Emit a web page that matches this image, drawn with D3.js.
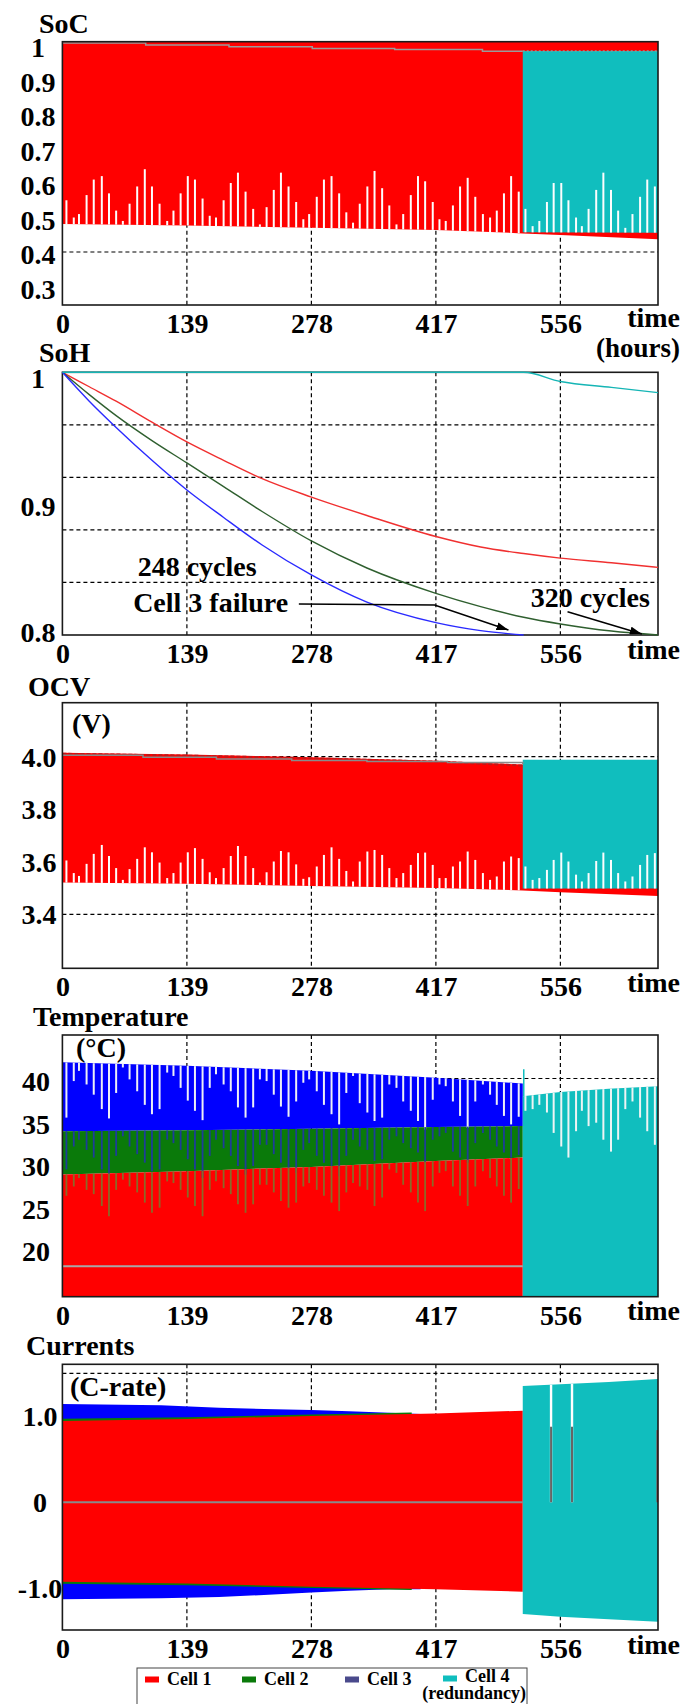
<!DOCTYPE html>
<html>
<head>
<meta charset="utf-8">
<script src="https://cdn.jsdelivr.net/npm/d3@7"></script>
<style>
body { margin: 0; background: #fff; }
svg text { font-family: "Liberation Serif", "Times New Roman", serif; font-weight: bold; fill: #000; }
</style>
</head>
<body>
<script>
// ---- shared time data (hours) ----
var timeTicks = [0, 139, 278, 417, 556];
var gridTimes = [139, 278, 417, 556];
var switchT = 514; // cell 4 (redundancy) takes over

// charge/discharge cycle instants, same for SoC, OCV and temperature
var cycleT = [4.5, 12.7, 18.5, 27, 35, 44, 52, 60, 67.5, 75,
  83.5, 92, 100, 108.5, 117, 124, 132, 140, 148, 156.5,
  164.5, 171.5, 180, 188, 196, 204.5, 213, 220.5, 228, 236,
  244, 252.5, 261, 269, 275.5, 284, 292, 300.5, 309, 317,
  324.5, 332, 340.5, 348.5, 357, 365, 373, 380.5, 389, 397,
  405, 413.5, 421, 428, 436, 444, 452.5, 461, 469.5, 477.5,
  485, 493, 501, 509.5,
  517, 525, 532.5, 541, 548.5, 557, 565, 573.5, 580, 587.5,
  596, 604, 612.5, 620.5, 628.5, 636.5, 645, 653, 661.5];

// ---- SoC ----
var socTicks = [1, 0.9, 0.8, 0.7, 0.6, 0.5, 0.4, 0.3];
var socEnvT = [0, 139, 278, 417, 514, 556, 620, 665];
var socRedHigh = [1.01, 1.01, 1.01, 1.01, 1.01, 1.01, 1.01, 1.01];
var socRedLow = [0.481, 0.477, 0.470, 0.464, 0.454, 0.449, 0.442, 0.437];
var socGreyT = [0, 93, 186, 279, 371, 469, 514];
var socGreyV = [1.006, 1.0, 0.995, 0.990, 0.987, 0.982, 0.982];
var socCyanT = [514, 665];
var socCyanHigh = [0.983, 0.983];
var socCyanLow = [0.457, 0.456];
var socSpikes = [0.55, 0.50, 0.51, 0.565, 0.61, 0.62, 0.57, 0.52, 0.49, 0.54,
  0.59, 0.64, 0.59, 0.54, 0.49, 0.52, 0.57, 0.62, 0.61, 0.555,
  0.505, 0.50, 0.55, 0.60, 0.63, 0.575, 0.525, 0.48, 0.53, 0.58,
  0.63, 0.59, 0.545, 0.495, 0.51, 0.56, 0.61, 0.62, 0.57, 0.515,
  0.485, 0.54, 0.59, 0.635, 0.585, 0.535, 0.48, 0.51, 0.565, 0.62,
  0.605, 0.545, 0.495, 0.49, 0.535, 0.59, 0.615, 0.56, 0.51, 0.50,
  0.52, 0.57, 0.62, 0.575,
  0.525, 0.475, 0.49, 0.545, 0.60, 0.60, 0.55, 0.50, 0.475, 0.525,
  0.58, 0.63, 0.58, 0.52, 0.47, 0.51, 0.56, 0.61, 0.59];

// ---- SoH ----
var sohTicks = [1, 0.9, 0.8];
var sohT = [0, 30, 60, 100, 139, 180, 223, 278, 340, 417, 467, 515, 556, 613, 665];
var sohCell1 = [1.0, 0.989, 0.978, 0.962, 0.947, 0.933, 0.919, 0.905, 0.891, 0.875, 0.867, 0.862, 0.8585, 0.855, 0.8515];
var sohCell2 = [1.0, 0.983, 0.967, 0.948, 0.931, 0.913, 0.894, 0.8716, 0.851, 0.8317, 0.8216, 0.8135, 0.8084, 0.803, 0.80];
var sohCell3 = [1.0, 0.978, 0.958, 0.933, 0.9104, 0.8895, 0.8685, 0.8457, 0.825, 0.8094, 0.8033, 0.80, null, null, null];
var sohCell4 = [1.0, 1.0, 1.0, 1.0, 1.0, 1.0, 1.0, 1.0, 1.0, 1.0, 1.0, 1.0, 0.993, 0.9885, 0.9845];
var sohNotes = [
  {text: "248 cycles", t: 84, v: 0.845},
  {text: "Cell 3 failure", t: 79, v: 0.8175},
  {text: "320 cycles", t: 523, v: 0.8213}
];
var sohArrows = [
  [[264, 0.8236], [415.5, 0.8228], [498, 0.8038]],
  [[564, 0.8177], [647, 0.8008]]
];

// ---- OCV ----
var ocvTicks = [4.0, 3.8, 3.6, 3.4];
var ocvEnvT = [0, 139, 278, 417, 514, 556, 665];
var ocvRedHigh = [4.015, 4.008, 3.998, 3.985, 3.97, 3.97, 3.97];
var ocvRedLow = [3.521, 3.516, 3.508, 3.50, 3.491, 3.484, 3.470];
var ocvGreyT = [0, 90, 172, 256, 340, 430, 514];
var ocvGreyV = [4.006, 3.998, 3.991, 3.986, 3.982, 3.978, 3.972];
var ocvCyanT = [514, 665];
var ocvCyanHigh = [3.988, 3.988];
var ocvCyanLow = [3.498, 3.498];
var ocvSpikes = [3.605, 3.557, 3.546, 3.592, 3.630, 3.664, 3.622, 3.576, 3.531, 3.572,
  3.611, 3.655, 3.636, 3.597, 3.538, 3.557, 3.597, 3.636, 3.652, 3.611,
  3.560, 3.538, 3.576, 3.622, 3.660, 3.622, 3.576, 3.521, 3.560, 3.601,
  3.641, 3.636, 3.590, 3.535, 3.541, 3.582, 3.626, 3.655, 3.611, 3.565,
  3.525, 3.601, 3.639, 3.645, 3.626, 3.576, 3.538, 3.557, 3.588, 3.633,
  3.635, 3.588, 3.538, 3.538, 3.582, 3.601, 3.639, 3.607, 3.557, 3.531,
  3.544, 3.601, 3.620, 3.614,
  3.582, 3.531, 3.538, 3.569, 3.607, 3.635, 3.601, 3.551, 3.525, 3.557,
  3.603, 3.635, 3.607, 3.557, 3.525, 3.544, 3.588, 3.626, 3.633];

// ---- Temperature (°C) ----
var tempTicks = [40, 35, 30, 25, 20];
var tempEnvT = [0, 139, 278, 417, 514];
var tempBlueHigh = [41.9, 41.5, 40.9, 40.1, 39.4];
var tempBlueLow = [33.8, 33.9, 34.1, 34.3, 34.4];
var tempGreenLow = [28.7, 29.1, 29.6, 30.3, 30.7];
var tempGrey = 17.9;
var tempCyanT = [514, 556, 610, 665];
var tempCyanHigh = [37.9, 38.4, 38.8, 39.1];
var tempCyanPeak = 41.1;
var tempBlueDip = [35.4, 39.7, 40.9, 39.3, 38.1, 36.4, 35.3, 38.3, 41.3, 39.9,
  38.5, 36.9, 35.8, 36.4, 40.7, 40.3, 38.9, 37.4, 36.2, 35.1,
  38.9, 40.5, 39.3, 38.5, 36.6, 35.4, 36.6, 39.9, 39.7, 38.1,
  36.7, 35.5, 37.3, 39.5, 39.9, 38.5, 36.9, 35.8, 34.6, 38.3,
  40.3, 37.1, 36.0, 35.0, 35.4, 39.3, 38.9, 37.3, 36.2, 35.0,
  34.0, 37.5, 39.3, 39.1, 37.3, 35.6, 34.2, 37.3, 39.3, 38.1,
  36.9, 35.6, 34.6, 35.5];
var tempGreenDip = [29.3, 32.0, 32.8, 31.6, 30.7, 29.3, 28.7, 30.9, 33.2, 32.0,
  31.1, 30.1, 29.1, 29.3, 32.8, 32.4, 31.6, 30.5, 29.3, 28.3,
  30.9, 32.8, 31.8, 30.9, 29.7, 28.7, 29.7, 32.2, 32.2, 31.1,
  30.1, 29.5, 28.9, 31.6, 32.4, 30.9, 30.1, 29.7, 28.5, 30.9,
  32.8, 32.0, 31.6, 30.3, 30.5, 32.8, 33.2, 32.4, 31.8, 31.3,
  30.1, 32.8, 33.2, 33.6, 31.4, 30.7, 30.1, 32.4, 33.6, 32.8,
  32.0, 31.3, 30.7, 31.0];
var tempRedDip = [26.2, 27.3, 28.3, 26.9, 26.4, 25.0, 23.8, 26.9, 28.1, 27.3,
  26.6, 25.4, 24.2, 24.8, 27.9, 27.7, 26.9, 26.0, 25.0, 23.8,
  26.9, 27.9, 27.1, 26.4, 25.2, 24.2, 25.2, 27.5, 27.5, 26.6,
  25.6, 24.8, 25.4, 27.3, 27.7, 26.9, 26.2, 25.4, 24.4, 26.6,
  27.7, 27.3, 26.9, 25.0, 26.0, 29.3, 28.9, 27.5, 26.6, 25.4,
  24.4, 27.3, 28.9, 29.1, 27.3, 26.2, 25.0, 27.3, 29.1, 28.3,
  27.3, 26.2, 25.4, 27.0];
var tempCyanDip = [36.2, 36.4, 36.9, 36.0, 33.6, 32.0, 30.7, 33.8, 36.2, 34.4,
  34.8, 32.8, 31.4, 32.8, 36.4, 37.3, 35.4, 33.8, 32.2];

// ---- Currents (C-rate) ----
var curTicks = [1, 0, -1];
var curBlueT = [0, 110, 175, 225, 278, 320, 365, 400];
var curBlueHigh = [1.143, 1.130, 1.10, 1.085, 1.073, 1.058, 1.042, 1.027];
var curBlueLow = [-1.128, -1.117, -1.10, -1.078, -1.05, -1.028, -1.01, -1.01];
var curGreenT = [0, 139, 278, 390];
var curGreenHigh = [0.972, 0.99, 1.02, 1.045];
var curGreenLow = [-0.948, -0.965, -0.997, -1.02];
var curRedT = [0, 139, 278, 417, 514];
var curRedHigh = [0.946, 0.968, 1.004, 1.034, 1.065];
var curRedLow = [-0.923, -0.943, -0.981, -1.012, -1.039];
var curCyanT = [514, 556, 610, 665];
var curCyanHigh = [1.352, 1.372, 1.40, 1.434];
var curCyanLow = [-1.299, -1.33, -1.36, -1.389];
var curGapT = [545.6, 569];
var curGapGrey = 0.879;
var curEndT = 664.3;
var curEndRed = 0.84;

var legendLabels = ["Cell 1", "Cell 2", "Cell 3", "Cell 4"];

var RED = "#ff0000", GREEN = "#0a7a0a", BLUE = "#0000ff", CYAN = "#10bebe";
var legendColors = [RED, GREEN, "#4a4a8c", CYAN];

var svg = d3.select("body").append("svg")
    .attr("width", 683)
    .attr("height", 1704);

var defs = svg.append("defs");
defs.append("marker")
    .attr("id", "arrow")
    .attr("viewBox", "0 0 12 8")
    .attr("refX", 12).attr("refY", 4)
    .attr("markerWidth", 12).attr("markerHeight", 8)
    .attr("markerUnits", "userSpaceOnUse")
    .attr("orient", "auto")
    .append("path").attr("d", "M0,0L12,4L0,8z").attr("fill", "#000");

var x = d3.scaleLinear().domain([0, 665]).range([62.4, 658]);

function makePanel(p) {
    var y = d3.scaleLinear().domain(p.domain).range([p.bottom, p.top]);
    var g = svg.append("g");

    var grid = g.append("g")
        .attr("stroke", "#000").attr("stroke-width", 1.2).attr("stroke-dasharray", "4,3");
    grid.selectAll(".vg").data(gridTimes).enter().append("line")
        .attr("x1", function(d) { return x(d); })
        .attr("x2", function(d) { return x(d); })
        .attr("y1", p.top).attr("y2", p.bottom);
    grid.selectAll(".hg").data(p.hGrid).enter().append("line")
        .attr("x1", x.range()[0]).attr("x2", x.range()[1])
        .attr("y1", function(d) { return y(d); })
        .attr("y2", function(d) { return y(d); });

    var marks = g.append("g");

    g.append("rect")
        .attr("x", x.range()[0]).attr("y", p.top)
        .attr("width", x.range()[1] - x.range()[0])
        .attr("height", p.bottom - p.top)
        .attr("fill", "none").attr("stroke", "#1a1a1a").attr("stroke-width", 1.6);

    var front = g.append("g");

    g.append("text").attr("x", p.titleX).attr("y", p.titleY)
        .attr("font-size", 28).text(p.title);
    if (p.unit) {
        g.append("text").attr("x", p.unitX).attr("y", p.unitY)
            .attr("font-size", 28).text(p.unit);
    }

    // y tick labels, kept inside the frame height
    g.selectAll(".yl").data(p.ticks).enter().append("text")
        .attr("x", p.labelX)
        .attr("y", function(d) {
            var c = Math.min(Math.max(y(d) + p.labelDy, p.top + 6), p.bottom - 3);
            return c + 9.5;
        })
        .attr("text-anchor", "middle")
        .attr("font-size", 28)
        .text(p.fmt);

    g.append("g")
        .attr("transform", "translate(0," + p.bottom + ")")
        .call(d3.axisBottom(x).tickValues(timeTicks).tickSize(0).tickPadding(8).tickFormat(d3.format("d")))
        .attr("font-size", 28)
        .call(function(a) { a.select(".domain").remove(); });

    g.append("text").attr("x", 680).attr("y", p.bottom + p.timeDy)
        .attr("text-anchor", "end").attr("font-size", 28).text("time");

    return {y: y, marks: marks, front: front};
}

function band(layer, y, ts, hi, lo, color) {
    var rows = ts.map(function(t, i) { return {t: t, hi: hi[i], lo: lo[i]}; });
    layer.append("path").datum(rows)
        .attr("d", d3.area()
            .x(function(d) { return x(d.t); })
            .y0(function(d) { return y(d.lo); })
            .y1(function(d) { return y(d.hi); }))
        .attr("fill", color);
}

function edge(ts, vs) {
    return d3.scaleLinear().domain(ts).range(vs).clamp(true);
}

function spikes(layer, y, ts, tips, from, color, w) {
    layer.append("g").selectAll("line").data(ts).enter().append("line")
        .attr("x1", function(d) { return x(d); })
        .attr("x2", function(d) { return x(d); })
        .attr("y1", function(d) { return y(from(d)); })
        .attr("y2", function(d, i) { return y(tips[i]); })
        .attr("stroke", color).attr("stroke-width", w);
}

function stepLine(layer, y, ts, vs, color, w, dash) {
    layer.append("path").datum(ts.map(function(t, i) { return [t, vs[i]]; }))
        .attr("d", d3.line()
            .x(function(d) { return x(d[0]); })
            .y(function(d) { return y(d[1]); })
            .curve(d3.curveStepAfter))
        .attr("fill", "none").attr("stroke", color).attr("stroke-width", w)
        .attr("stroke-dasharray", dash || null);
}

var oneDec = function(d) { return d === 1 ? "1" : d.toFixed(1); };

// ---------- SoC ----------
var soc = makePanel({title: "SoC", titleX: 39, titleY: 33, top: 41.7, bottom: 305,
    domain: [0.2464, 1.0096], ticks: socTicks, fmt: oneDec, labelX: 38, labelDy: 2.5,
    hGrid: [0.4], timeDy: 22});
band(soc.marks, soc.y, socEnvT, socRedHigh, socRedLow, RED);
band(soc.marks, soc.y, socCyanT, socCyanHigh, socCyanLow, CYAN);
stepLine(soc.marks, soc.y, socGreyT, socGreyV, "#9a9a9a", 1.5);
stepLine(soc.marks, soc.y, socCyanT, socCyanHigh, "#8a9a9a", 1.5, "2,2");
var socRedBase = edge(socEnvT, socRedLow), socCyanBase = edge(socCyanT, socCyanLow);
spikes(soc.marks, soc.y, cycleT, socSpikes,
    function(t) { return t < switchT ? socRedBase(t) : socCyanBase(t); }, "#fdfdfd", 2);
svg.append("text").attr("x", 680).attr("y", 357)
    .attr("text-anchor", "end").attr("font-size", 27).text("(hours)");

// ---------- SoH ----------
var soh = makePanel({title: "SoH", titleX: 39, titleY: 361.5, top: 372.3, bottom: 635,
    domain: [0.8, 1.0], ticks: sohTicks, fmt: oneDec, labelX: 38, labelDy: 2.5,
    hGrid: [0.96, 0.92, 0.88, 0.84], timeDy: 23.5});
var sohLine = d3.line()
    .defined(function(d) { return d[1] !== null; })
    .x(function(d) { return x(d[0]); })
    .y(function(d) { return soh.y(d[1]); })
    .curve(d3.curveMonotoneX);
[[sohCell1, "#f03030"], [sohCell2, "#2f5f2f"], [sohCell3, "#2a2aff"], [sohCell4, "#15b5b5"]]
    .forEach(function(s) {
        soh.front.append("path")
            .datum(sohT.map(function(t, i) { return [t, s[0][i]]; }))
            .attr("d", sohLine)
            .attr("fill", "none").attr("stroke", s[1]).attr("stroke-width", 1.4);
    });
soh.front.selectAll(".note").data(sohNotes).enter().append("text")
    .attr("x", function(d) { return x(d.t); })
    .attr("y", function(d) { return soh.y(d.v); })
    .attr("font-size", 28)
    .text(function(d) { return d.text; });
soh.front.selectAll(".arr").data(sohArrows).enter().append("path")
    .attr("d", d3.line()
        .x(function(d) { return x(d[0]); })
        .y(function(d) { return soh.y(d[1]); }))
    .attr("fill", "none").attr("stroke", "#000").attr("stroke-width", 1.5)
    .attr("marker-end", "url(#arrow)");

// ---------- OCV ----------
var ocv = makePanel({title: "OCV", titleX: 28, titleY: 696, top: 702.7, bottom: 968.3,
    domain: [3.1944, 4.2056], ticks: ocvTicks, fmt: function(d) { return d.toFixed(1); },
    labelX: 39, labelDy: 0.5, hGrid: [4.0, 3.4], timeDy: 23.5,
    unit: "(V)", unitX: 72, unitY: 733});
band(ocv.marks, ocv.y, ocvEnvT, ocvRedHigh, ocvRedLow, RED);
band(ocv.marks, ocv.y, ocvCyanT, ocvCyanHigh, ocvCyanLow, CYAN);
// notched darker rim along the top of cell 1
ocv.marks.append("path")
    .datum(ocvEnvT.filter(function(t) { return t <= switchT; }).map(function(t, i) { return [t, ocvRedHigh[i]]; }))
    .attr("d", d3.line().x(function(d) { return x(d[0]); }).y(function(d) { return ocv.y(d[1]) + 1; }))
    .attr("fill", "none").attr("stroke", "#c01818").attr("stroke-width", 2).attr("stroke-dasharray", "4,2");
stepLine(ocv.marks, ocv.y, ocvGreyT, ocvGreyV, "#8a8a8a", 1.5);
var ocvRedBase = edge(ocvEnvT, ocvRedLow), ocvCyanBase = edge(ocvCyanT, ocvCyanLow);
spikes(ocv.marks, ocv.y, cycleT, ocvSpikes,
    function(t) { return t < switchT ? ocvRedBase(t) : ocvCyanBase(t); }, "#fdfdfd", 2);

// ---------- Temperature ----------
var temp = makePanel({title: "Temperature", titleX: 33, titleY: 1026, top: 1035, bottom: 1296.7,
    domain: [14.33, 45.12], ticks: tempTicks, fmt: function(d) { return String(d); },
    labelX: 36, labelDy: 3, hGrid: [40], timeDy: 23.5,
    unit: "(°C)", unitX: 76, unitY: 1057});
var tMin = temp.y.domain()[0];
band(temp.marks, temp.y, tempEnvT, tempBlueHigh, tempBlueLow, BLUE);
band(temp.marks, temp.y, tempEnvT, tempBlueLow, tempGreenLow, GREEN);
band(temp.marks, temp.y, tempEnvT, tempGreenLow, tempEnvT.map(function() { return tMin; }), RED);
band(temp.marks, temp.y, tempCyanT, tempCyanHigh, tempCyanT.map(function() { return tMin; }), CYAN);
temp.marks.append("line")
    .attr("x1", x(0)).attr("x2", x(switchT))
    .attr("y1", temp.y(tempGrey)).attr("y2", temp.y(tempGrey))
    .attr("stroke", "#a8a8a8").attr("stroke-width", 2);
temp.marks.append("line")
    .attr("x1", x(tempCyanT[0]) + 1).attr("x2", x(tempCyanT[0]) + 1)
    .attr("y1", temp.y(tempCyanHigh[0])).attr("y2", temp.y(tempCyanPeak))
    .attr("stroke", CYAN).attr("stroke-width", 1.5);
var redCycles = cycleT.slice(0, tempBlueDip.length);
var cyanCycles = cycleT.slice(tempBlueDip.length);
spikes(temp.marks, temp.y, redCycles, tempBlueDip, edge(tempEnvT, tempBlueHigh), "#eceef6", 2);
spikes(temp.marks, temp.y, redCycles, tempGreenDip, edge(tempEnvT, tempBlueLow), "#1e3c9a", 1.8);
spikes(temp.marks, temp.y, redCycles, tempRedDip, edge(tempEnvT, tempGreenLow), "#8a6a28", 1.8);
spikes(temp.marks, temp.y, cyanCycles, tempCyanDip, edge(tempCyanT, tempCyanHigh), "#eef4f4", 2);

// ---------- Currents ----------
var cur = makePanel({title: "Currents", titleX: 26, titleY: 1355, top: 1364.3, bottom: 1630,
    domain: [-1.485, 1.605], ticks: curTicks,
    fmt: function(d) { return d === 0 ? "0" : d.toFixed(1); },
    labelX: 40, labelDy: 0, hGrid: [1.5], timeDy: 23.5,
    unit: "(C-rate)", unitX: 70, unitY: 1396});
band(cur.marks, cur.y, curBlueT, curBlueHigh, curBlueLow, BLUE);
band(cur.marks, cur.y, curGreenT, curGreenHigh, curGreenLow, GREEN);
band(cur.marks, cur.y, curRedT, curRedHigh, curRedLow, RED);
band(cur.marks, cur.y, curCyanT, curCyanHigh, curCyanLow, CYAN);
cur.marks.append("line")
    .attr("x1", x(0)).attr("x2", x(switchT))
    .attr("y1", cur.y(0)).attr("y2", cur.y(0))
    .attr("stroke", "#8a8a8a").attr("stroke-width", 2);
var curCyanTop = edge(curCyanT, curCyanHigh);
spikes(cur.marks, cur.y, curGapT, curGapT.map(function() { return 0; }), curCyanTop, "#fff", 2.4);
spikes(cur.marks, cur.y, curGapT, curGapT.map(function() { return 0; }),
    function() { return curGapGrey; }, "#666", 2);
spikes(cur.marks, cur.y, [curEndT], [curEndRed], function() { return 0; }, "#c02020", 1.5);

// ---------- legend ----------
var legend = svg.append("g");
legend.append("rect")
    .attr("x", 137).attr("y", 1668).attr("width", 390).attr("height", 50)
    .attr("fill", "#fff").attr("stroke", "#444").attr("stroke-width", 1);
var legendX = [145, 242, 345, 443];
legend.selectAll(".sw").data(legendLabels).enter().append("rect")
    .attr("x", function(d, i) { return legendX[i]; })
    .attr("y", function(d, i) { return i === 3 ? 1675.5 : 1676.5; })
    .attr("width", 14).attr("height", 6)
    .attr("fill", function(d, i) { return legendColors[i]; });
legend.selectAll(".lt").data(legendLabels).enter().append("text")
    .attr("x", function(d, i) { return legendX[i] + 22; })
    .attr("y", function(d, i) { return i === 3 ? 1682 : 1685; })
    .attr("font-size", 18)
    .text(function(d) { return d; });
legend.append("text").attr("x", 526).attr("y", 1699)
    .attr("text-anchor", "end").attr("font-size", 18).text("(redundancy)");
</script>
</body>
</html>
